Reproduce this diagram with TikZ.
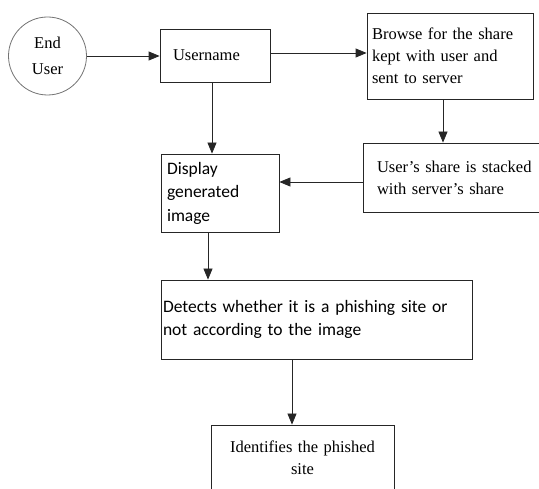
\documentclass[tikz,border=0pt]{standalone}
\usepackage{fontspec}
\setmainfont{Liberation Serif}
\newfontfamily\calibri{Carlito}
\usetikzlibrary{arrows.meta,positioning}
\tikzset{
	box/.style = {draw = black!85, line width = 0.8pt, inner ysep = 0pt, align = left,
		font = \fontsize{16.5}{22}\selectfont},
	cbox/.style = {box, font = \calibri\fontsize{17.5}{23.5}\selectfont},
	actor/.style = {draw = black!55, line width = 0.8pt, circle, minimum size = 78pt,
		inner sep = 0pt, align = center, font = \fontsize{16.5}{26}\selectfont},
	flow/.style = {draw = black!85, line width = 0.8pt, -{Triangle[length = 11pt, width = 9pt]}}
}
\begin{document}
\begin{tikzpicture}[x = 1pt, y = -1pt]
	\useasboundingbox (0, 0) rectangle (539, 489);
	\clip (0, 0) rectangle (539, 489);

	% boxes
	\node [actor] (eu) at (47.5, 56) {End\\User};
	\node [box, minimum width = 110pt, minimum height = 53pt, inner xsep = 13pt, text width = 84pt]
		(un) at (215, 55.5) {Username};
	\node [box, minimum width = 166pt, minimum height = 86pt, inner xsep = 5pt, text width = 156pt]
		(br) at (450, 56) {Browse for the share\\kept with user and\\sent to server};
	\node [box, minimum width = 200pt, minimum height = 69pt, inner xsep = 14pt, text width = 172pt]
		(st) at (463, 177.5) {User's share is stacked\\with server's share};
	\node [cbox, minimum width = 118pt, minimum height = 78pt, inner xsep = 6pt, text width = 106pt]
		(di) at (220, 193) {Display\\generated\\image};
	\node [cbox, minimum width = 311pt, minimum height = 79pt, inner xsep = 2pt, text width = 307pt]
		(de) at (316.5, 319.5) {Detects whether it is a phishing site or\\not according to the image};
	\node [box, align = center, minimum width = 183pt, minimum height = 66pt, inner xsep = 4pt, text width = 175pt]
		(id) at (302.5, 458) {Identifies the phished\\site};

	% arrows
	\draw [flow] (eu.east) -- (eu.east -| un.west);
	\draw [flow] ([yshift = 2.5pt]un.east) -- ([yshift = 2.5pt]un.east -| br.west);
	\draw [flow] ([xshift = -7pt]br.south) -- ([xshift = -7pt]br.south |- st.north);
	\draw [flow] ([yshift = -4.5pt]st.west) -- ([yshift = -4.5pt]st.west -| di.east);
	\draw [flow] ([xshift = -3pt]un.south) -- ([xshift = -3pt]un.south |- di.north);
	\draw [flow] ([xshift = -12pt]di.south) -- ([xshift = -12pt]di.south |- de.north);
	\draw [flow] ([xshift = -10.5pt]id.north |- de.south) -- ([xshift = -10.5pt]id.north);
\end{tikzpicture}
\end{document}
